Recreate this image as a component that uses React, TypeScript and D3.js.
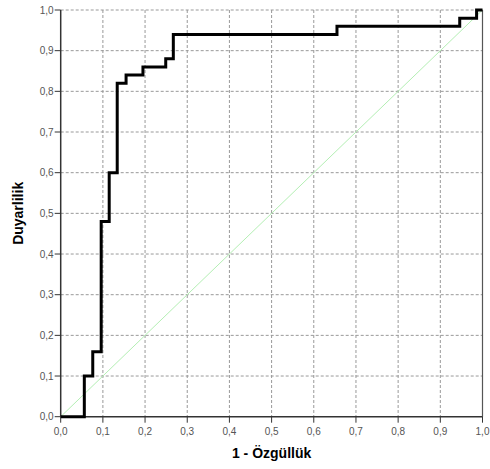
import React from "react";
import * as d3 from "d3";

const fprValues = [0, 0.056, 0.076, 0.096, 0.115, 0.134, 0.155, 0.195, 0.249, 0.267, 0.655, 0.946, 0.986, 1];
const tprValues = [0, 0.10, 0.16, 0.48, 0.60, 0.82, 0.84, 0.86, 0.88, 0.94, 0.96, 0.98, 1.0, 1.0];
const tickValues = [0, 0.1, 0.2, 0.3, 0.4, 0.5, 0.6, 0.7, 0.8, 0.9, 1.0];
const xTitle = "1 - Özgüllük";
const yTitle = "Duyarlilik";

const W = 490, H = 469;
const x0 = 60.7, x1 = 482.5, yTop = 10, yBot = 416.7;

export default function App() {
  const x = d3.scaleLinear().domain([0, 1]).range([x0, x1]);
  const y = d3.scaleLinear().domain([0, 1]).range([yBot, yTop]);
  const pts: [number, number][] = fprValues.map((f, i) => [f, tprValues[i]]);
  const line = d3.line<[number, number]>().x(d => x(d[0])).y(d => y(d[1])).curve(d3.curveStepAfter);
  const fmt = (v: number) => v.toFixed(1).replace(".", ",");
  const font = "'Liberation Sans', Arial, sans-serif";
  return (
    <svg width={W} height={H} style={{ position: "absolute", left: 0, top: 0, background: "#fff" }}>
      <rect x={0} y={0} width={W} height={H} fill="#fff" />
      {tickValues.slice(1).map(t => (
        <line key={"gx" + t} x1={x(t)} x2={x(t)} y1={yTop} y2={yBot} stroke="#999" strokeWidth={1} strokeDasharray="3,2" />
      ))}
      {tickValues.slice(1).map(t => (
        <line key={"gy" + t} x1={x0} x2={x1} y1={y(t)} y2={y(t)} stroke="#999" strokeWidth={1} strokeDasharray="3,2" />
      ))}
      <line x1={x(0)} y1={y(0)} x2={x(1)} y2={y(1)} stroke="#b4efb4" strokeWidth={1} />
      <line x1={x1} x2={x1} y1={yTop} y2={yBot} stroke="#555" strokeWidth={1.2} />
      <line x1={x0} x2={x0} y1={yTop} y2={yBot} stroke="#333" strokeWidth={1.5} />
      <line x1={x0} x2={x1} y1={yBot} y2={yBot} stroke="#333" strokeWidth={1.5} />
      {tickValues.map(t => (
        <g key={"ty" + t}>
          <line x1={x0 - 6} x2={x0} y1={y(t)} y2={y(t)} stroke="#333" strokeWidth={1} />
          <text x={x0 - 7} y={y(t)} dy="0.35em" textAnchor="end" fontFamily={font} fontSize={10} fill="#555">{fmt(t)}</text>
        </g>
      ))}
      {tickValues.map(t => (
        <g key={"tx" + t}>
          <line x1={x(t)} x2={x(t)} y1={yBot} y2={yBot + 6} stroke="#333" strokeWidth={1} />
          <text x={x(t)} y={yBot + 18} textAnchor="middle" fontFamily={font} fontSize={10} fill="#555">{fmt(t)}</text>
        </g>
      ))}
      <path d={line(pts) || ""} fill="none" stroke="#000" strokeWidth={3} strokeLinejoin="miter" />
      <text x={(x0 + x1) / 2} y={458} textAnchor="middle" fontFamily={font} fontSize={14} fontWeight="bold" fill="#000">{xTitle}</text>
      <text transform={`translate(23,${(yTop + yBot) / 2}) rotate(-90)`} textAnchor="middle" fontFamily={font} fontSize={14} fontWeight="bold" fill="#000">{yTitle}</text>
    </svg>
  );
}
